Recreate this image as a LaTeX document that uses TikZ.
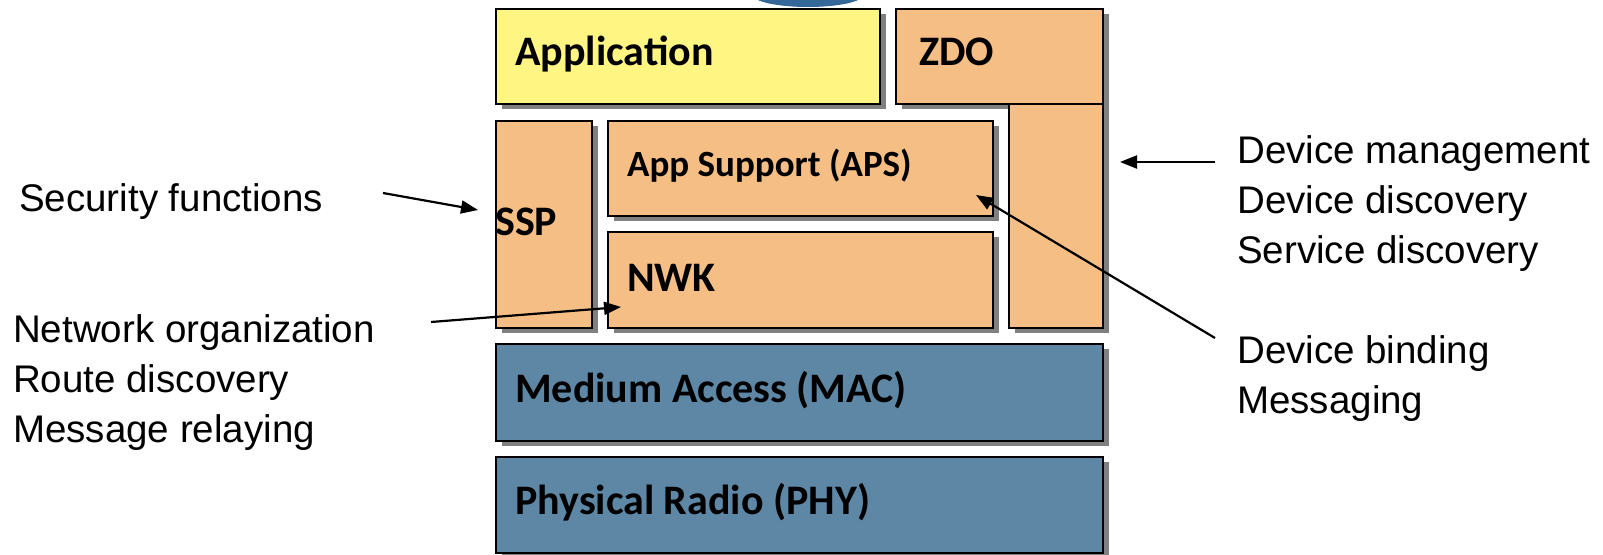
\documentclass[tikz,border=0pt]{standalone}
\usepackage{fontspec}
\setmainfont{Liberation Sans}
\newfontfamily\calb{Carlito}
\usetikzlibrary{arrows.meta,shadows}
\definecolor{appY}{RGB}{255,245,130}
\definecolor{orng}{RGB}{245,190,132}
\definecolor{blu}{RGB}{94,135,165}
\definecolor{topblu}{RGB}{52,104,152}
\definecolor{shd}{RGB}{128,128,128}
\tikzset{
  layer/.style={draw=black, line width=2.4pt, rectangle, inner sep=0pt, anchor=north west,
    drop shadow={shadow xshift=6pt, shadow yshift=-5pt, fill=shd, opacity=1}},
  boxtext/.style={inner sep=0pt, anchor=base west, font=\calb\bfseries\fontsize{42}{50}\selectfont},
  smalltext/.style={boxtext, font=\calb\bfseries\fontsize{37}{44}\selectfont},
  note/.style={inner sep=0pt, anchor=base west, font=\fontsize{38.5}{50}\selectfont},
  pointer/.style={line width=2.2pt, -{Triangle[length=17pt,width=13pt]}}
}
\begin{document}
\begin{tikzpicture}[x=1pt,y=-1pt]
\useasboundingbox (0,0) rectangle (1603,554);
\clip (0,0) rectangle (1603,554);
\fill[topblu] (808,-5) ellipse [x radius=55pt, y radius=12pt];
% layers
\node[layer, fill=appY, minimum width=384pt, minimum height=95pt] (app) at (495,8) {};
\node[layer, fill=orng, minimum width=207pt, minimum height=95pt] (zdo) at (895,8) {};
\node[layer, fill=orng, minimum width=94pt, minimum height=224pt] (zdov) at (1008,103) {};
\node[layer, fill=orng, minimum width=96pt, minimum height=207pt] (ssp) at (495,120) {};
\node[layer, fill=orng, minimum width=385pt, minimum height=95pt] (aps) at (607,120) {};
\node[layer, fill=orng, minimum width=385pt, minimum height=96pt] (nwk) at (607,231) {};
\node[layer, fill=blu, minimum width=607pt, minimum height=97pt] (mac) at (495,343) {};
\node[layer, fill=blu, minimum width=607pt, minimum height=96pt] (phy) at (495,456) {};
% layer texts
\node[boxtext] (tapp) at (515,65) {Application};
\node[boxtext] (tzdo) at (919,65) {ZDO};
\node[smalltext] (taps) at (627,176) {App Support (APS)};
\node[boxtext] (tssp) at (495,235) {SSP};
\node[boxtext] (tnwk) at (627,291) {NWK};
\node[boxtext] (tmac) at (515,402) {Medium Access (MAC)};
\node[boxtext] (tphy) at (515,514) {Physical Radio (PHY)};
% notes
\node[note] (sec) at (19,211) {Security functions};
\node[note] (net1) at (13,342) {Network organization};
\node[note] (net2) at (13,392) {Route discovery};
\node[note] (net3) at (13,442) {Message relaying};
\node[note] (dev1) at (1237,163) {Device management};
\node[note] (dev2) at (1237,213) {Device discovery};
\node[note] (dev3) at (1237,263) {Service discovery};
\node[note] (bind1) at (1237,363) {Device binding};
\node[note] (bind2) at (1237,413) {Messaging};
% arrows
\coordinate (secS) at (383,193);
\coordinate (secE) at (478,210);
\coordinate (nwkS) at (431,322);
\coordinate (nwkE) at (621,307);
\coordinate (zdoS) at (1215,162);
\coordinate (zdoE) at (1120,162);
\coordinate (apsS) at (1215,338);
\coordinate (apsE) at (976,195);
\draw[pointer] (secS) -- (secE);
\draw[pointer] (nwkS) -- (nwkE);
\draw[pointer] (zdoS) -- (zdoE);
\draw[pointer] (apsS) -- (apsE);
\end{tikzpicture}
\end{document}
